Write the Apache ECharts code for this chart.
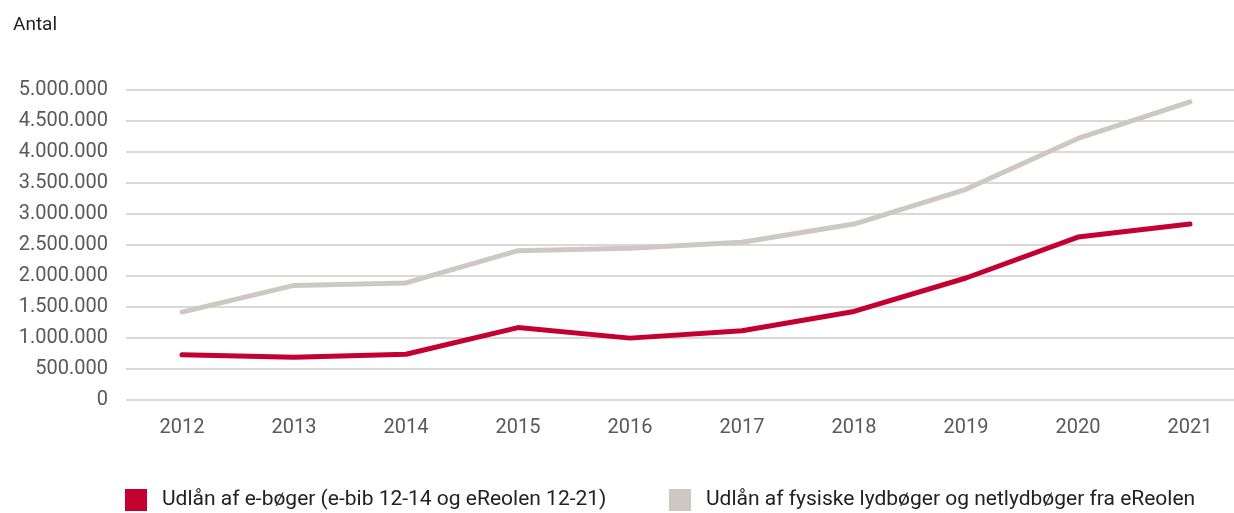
<!DOCTYPE html>
<html>
<head>
<meta charset="utf-8">
<title>Udlån</title>
<script src="https://cdn.jsdelivr.net/npm/echarts@6/dist/echarts.min.js"></script>
<style>
html, body { margin: 0; padding: 0; background: #fff; }
#main { width: 1234px; height: 513px; }
</style>
</head>
<body>
<div id="main"></div>
<script>
// 年份
var years = ['2012', '2013', '2014', '2015', '2016', '2017', '2018', '2019', '2020', '2021'];
// 数据
var eBooks = [720000, 680000, 730000, 1160000, 990000, 1110000, 1420000, 1960000, 2620000, 2830000];
var audioBooks = [1410000, 1840000, 1880000, 2400000, 2440000, 2535000, 2830000, 3390000, 4210000, 4800000];
var seriesNames = ['Udlån af e-bøger (e-bib 12-14 og eReolen 12-21)',
		'Udlån af fysiske lydbøger og netlydbøger fra eReolen'];
var yTicks = [0, 5000000, 500000]; // min, max, interval

var fontFamily = 'Roboto, "DejaVu Sans", sans-serif';

/**
 * 千位分隔符 "."
 */
function formatDots(v) {
	return String(v).replace(/\B(?=(\d{3})+(?!\d))/g, '.');
}

function drawchart(divId, option) {
	echarts.dispose(document.getElementById(divId));
	var myChart = echarts.init(document.getElementById(divId));
	myChart.setOption(option);
	return myChart;
}

/* 图例 (每项单独定位) */
function makeLegend(name, left) {
	return {
		left : left,
		top : 489,
		padding : 0,
		icon : 'rect',
		itemWidth : 22,
		itemHeight : 22,
		textStyle : {
			fontSize : 21,
			color : '#222',
			fontFamily : fontFamily,
			padding : [0, 0, 0, 10]
		},
		data : [ name ]
	};
}

var option = {
	animation : false,
	textStyle : {
		fontFamily : fontFamily
	},
	title : {
		text : 'Antal',
		left : 8,
		top : 11,
		textStyle : {
			fontSize : 19,
			fontWeight : 'normal',
			color : '#222',
			fontFamily : fontFamily
		}
	},
	legend : [ makeLegend(seriesNames[0], 125), makeLegend(seriesNames[1], 669) ],
	// 图表位置 (右侧超出画布)
	grid : {
		left : 126,
		width : 1120,
		top : 89.5,
		bottom : 113.5,
		containLabel : false,
		outerBoundsMode : 'none'
	},
	xAxis : {
		type : 'category',
		data : years,
		boundaryGap : true,
		axisLine : { show : false },
		axisTick : { show : false },
		axisLabel : {
			margin : 18,
			fontSize : 20,
			color : '#595959',
			fontFamily : fontFamily
		}
	},
	yAxis : {
		type : 'value',
		min : yTicks[0],
		max : yTicks[1],
		interval : yTicks[2],
		axisLine : { show : false },
		axisTick : { show : false },
		axisLabel : {
			margin : 18,
			fontSize : 20,
			color : '#595959',
			fontFamily : fontFamily,
			formatter : formatDots
		},
		splitLine : {
			lineStyle : {
				color : '#d9d9d9',
				width : 2
			}
		}
	},
	series : [ {
		name : seriesNames[0],
		type : 'line',
		data : eBooks,
		symbol : 'none',
		color : '#c3002f',
		lineStyle : { width : 5, color : '#c3002f', cap : 'round', join : 'round' },
		z : 3
	}, {
		name : seriesNames[1],
		type : 'line',
		data : audioBooks,
		symbol : 'none',
		color : '#cdc9c2',
		lineStyle : { width : 5, color : '#cdc9c2', cap : 'round', join : 'round' },
		z : 2
	} ]
};

drawchart('main', option);
</script>
</body>
</html>
